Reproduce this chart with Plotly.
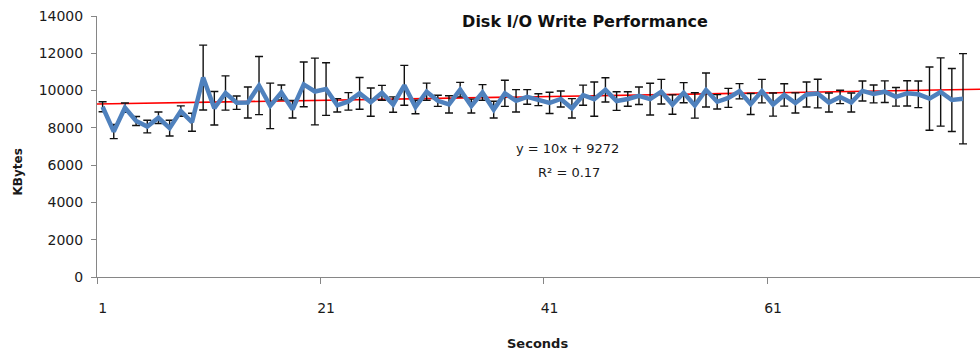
import plotly.graph_objects as go

# Per-second write throughput (KBytes) and its spread
seconds = list(range(1, 79))
kbytes = [
    9130, 7800, 9080, 8370, 8070, 8540, 7985, 8900, 8300, 10700,
    9050, 9870, 9350, 9360, 10270, 9180, 9900, 9000, 10330, 9950,
    10080, 9210, 9420, 9850, 9380, 9880, 9250, 10280, 9120, 9940,
    9450, 9260, 10050, 9170, 9900, 8980, 9850, 9450, 9660, 9510,
    9340, 9550, 9050, 9750, 9540, 10040, 9440, 9550, 9720, 9540,
    9940, 9250, 9885, 9200, 10030, 9400, 9610, 9965, 9280, 9970,
    9250, 9765, 9335, 9790, 9840, 9360, 9660, 9362, 9980, 9820,
    9940, 9665, 9850, 9800, 9568, 9925, 9496, 9560,
]
kbytes_err = [
    270, 380, 250, 240, 340, 310, 420, 280, 480, 1740,
    900, 920, 360, 830, 1560, 1220, 400, 470, 1200, 1790,
    1410, 360, 470, 850, 760, 400, 410, 1070, 360, 460,
    300, 460, 390, 370, 420, 450, 700, 600, 390, 320,
    570, 430, 520, 540, 920, 650, 500, 390, 470, 850,
    660, 520, 540, 680, 910, 385, 510, 410, 560, 630,
    620, 600, 540, 670, 770, 510, 360, 510, 536, 480,
    580, 500, 680, 715, 1700, 1830, 1690, 2420,
]

# Linear trend fitted to the series
trend_slope = 10
trend_intercept = 9272
trend_r2 = 0.17

x_tick_labels = ["1", "21", "41", "61"]
x_tick_vals = [1, 21, 41, 61]
y_tick_vals = [0, 2000, 4000, 6000, 8000, 10000, 12000, 14000]
y_tick_labels = ["0", "2000", "4000", "6000", "8000", "10000", "12000", "14000"]

x_range = [0.5, 79.52]
y_range = [0, 14000]

FONT = "DejaVu Sans"
AXIS_GREY = "#868686"
TEXT = "#1a1a1a"

trend_x = x_range
trend_y = [trend_slope * x + trend_intercept for x in trend_x]

fig = go.Figure()

fig.add_trace(go.Scatter(
    x=trend_x, y=trend_y, mode="lines",
    line=dict(color="#FF0000", width=1.6),
    hoverinfo="skip", showlegend=False,
))

fig.add_trace(go.Scatter(
    x=seconds, y=kbytes, mode="lines",
    line=dict(color="#4F81BD", width=4.5),
    error_y=dict(type="data", array=kbytes_err, visible=True,
                 color="#111111", thickness=1.4, width=4),
    showlegend=False,
))

fig.update_layout(
    width=980, height=351,
    margin=dict(l=97, r=0, t=16, b=74),
    paper_bgcolor="white", plot_bgcolor="white",
    font=dict(family=FONT, size=14, color=TEXT),
    title=dict(
        text="<b>Disk I/O Write Performance</b>",
        x=585 / 980, xanchor="center", xref="container",
        y=1 - 21 / 351, yanchor="middle", yref="container",
        font=dict(family=FONT, size=16, color="#111111"),
    ),
    xaxis=dict(
        range=x_range, showgrid=False, zeroline=False,
        showline=True, linecolor=AXIS_GREY, linewidth=1,
        tickmode="array", tickvals=x_tick_vals, ticktext=x_tick_labels,
        ticks="", ticklabelstandoff=18,
        tickfont=dict(family=FONT, size=14, color=TEXT),
        minor=dict(tickmode="array", tickvals=[0.5, 20.5, 40.5, 60.5],
                   ticks="outside", ticklen=6, tickcolor=AXIS_GREY, tickwidth=1),
    ),
    yaxis=dict(
        range=y_range, showgrid=False, zeroline=False,
        showline=True, linecolor=AXIS_GREY, linewidth=1,
        tickmode="array", tickvals=y_tick_vals, ticktext=y_tick_labels,
        ticks="outside", ticklen=5, tickcolor=AXIS_GREY,
        ticklabelstandoff=5,
        tickfont=dict(family=FONT, size=14, color=TEXT),
    ),
    annotations=[
        dict(text=f"y = {trend_slope}x + {trend_intercept}",
             xref="paper", yref="paper", x=0.533, y=(276.7 - 148) / 261,
             showarrow=False, xanchor="center", yanchor="middle",
             font=dict(family=FONT, size=13, color=TEXT)),
        dict(text=f"R² = {trend_r2}",
             xref="paper", yref="paper", x=0.535, y=(276.7 - 172.5) / 261,
             showarrow=False, xanchor="center", yanchor="middle",
             font=dict(family=FONT, size=13, color=TEXT)),
        dict(text="<b>Seconds</b>",
             xref="paper", yref="paper", x=(537 - 97) / 883, y=-(343 - 277) / 261,
             showarrow=False, xanchor="center", yanchor="middle",
             font=dict(family=FONT, size=13, color=TEXT)),
        dict(text="<b>KBytes</b>", textangle=-90,
             xref="paper", yref="paper", x=(17.5 - 97) / 883, y=(277 - 172) / 261,
             showarrow=False, xanchor="center", yanchor="middle",
             font=dict(family=FONT, size=12, color=TEXT)),
    ],
)

fig.write_html("out.html")
